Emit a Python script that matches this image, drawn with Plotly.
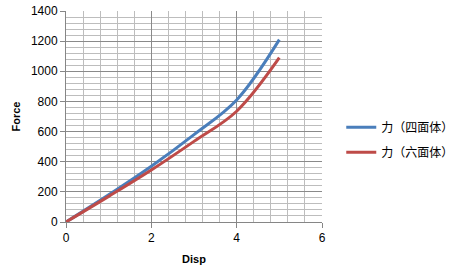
import plotly.graph_objects as go

disp = [0, 1, 2, 3, 4, 5]
force_tet = [0, 180, 370, 580, 810, 1210]
force_hex = [0, 170, 345, 535, 735, 1090]
names = ["力（四面体）", "力（六面体）"]
colors = ["#4A7EBB", "#BE4B48"]

fig = go.Figure()
for ys, nm, c, g in [(force_tet, names[0], colors[0], "a"), (force_hex, names[1], colors[1], "b")]:
    fig.add_trace(go.Scatter(x=disp, y=ys, mode="lines", name=nm, legendgroup=g,
                             line=dict(color=c, width=3, shape="spline", smoothing=1.0)))

axfont = dict(family="Liberation Sans, Arial", size=12, color="#000")
fig.update_layout(
    width=452, height=274,
    margin=dict(l=66, r=130, t=11, b=52, autoexpand=False),
    paper_bgcolor="white", plot_bgcolor="white",
    font=axfont,
    showlegend=True,
    legend=dict(xref="container", yref="container", x=0.755, y=0.49, xanchor="left", yanchor="middle",
                font=dict(family="Noto Sans CJK SC", size=12, color="#000"),
                tracegroupgap=6, itemwidth=30, bgcolor="rgba(0,0,0,0)"),
    xaxis=dict(range=[0, 6], tickvals=[0, 2, 4, 6], showgrid=True, gridcolor="#8a8a8a", gridwidth=1,
               minor=dict(dtick=0.4, showgrid=True, gridcolor="#bdbdbd", gridwidth=1),
               showline=True, linecolor="#868686", linewidth=1, ticks="outside", ticklen=5,
               tickcolor="#868686", zeroline=False, tickfont=axfont,
               title=dict(text="<b>Disp</b>", font=dict(size=11), standoff=10)),
    yaxis=dict(range=[0, 1400], tickvals=list(range(0, 1401, 200)), showgrid=True, gridcolor="#8a8a8a",
               gridwidth=1, minor=dict(dtick=40, showgrid=True, gridcolor="#bdbdbd", gridwidth=1),
               showline=True, linecolor="#868686", linewidth=1, ticks="outside", ticklen=5,
               tickcolor="#868686", zeroline=False, tickfont=axfont,
               title=dict(text="<b>Force</b>", font=dict(size=11), standoff=8)),
)
fig.write_html("out.html")
